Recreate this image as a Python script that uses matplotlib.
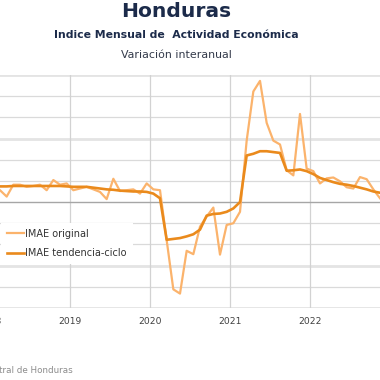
import numpy as np
import pandas as pd
import matplotlib
matplotlib.use('Agg')
import matplotlib.pyplot as plt
from matplotlib.lines import Line2D

# meses ene-2018 .. nov-2022
meses = pd.date_range('2018-01-01', periods=59, freq='MS')

imae_original = [3.5, 2.8, 1.3, 4.1, 4.1, 3.6, 3.8, 4.1, 2.8, 5.2, 4.1, 4.4,
                 2.8, 3.2, 3.6, 3.0, 2.4, 0.7, 5.5, 2.6, 2.8, 3.0, 2.0, 4.4,
                 3.0, 2.8, -9.0, -20.6, -21.6, -11.5, -12.3, -5.8, -3.4, -1.3, -12.4, -5.4,
                 -5.0, -2.3, 14.5, 26.1, 28.6, 18.7, 14.5, 13.6, 7.5, 6.3, 20.8, 7.9,
                 7.3, 4.4, 5.6, 5.8, 4.9, 3.5, 3.2, 5.9, 5.4, 3.0, 0.9]

imae_tendencia = [3.7, 3.7, 3.7, 3.8, 3.8, 3.8, 3.8, 3.8, 3.8, 3.8, 3.8, 3.7,
                  3.6, 3.6, 3.6, 3.4, 3.2, 3.0, 2.9, 2.7, 2.6, 2.5, 2.5, 2.4,
                  2.0, 0.9, -8.9, -8.7, -8.5, -8.1, -7.6, -6.5, -3.2, -2.8, -2.7, -2.3,
                  -1.5, 0.0, 11.0, 11.4, 12.0, 12.0, 11.8, 11.6, 7.4, 7.5, 7.7, 7.3,
                  6.6, 5.7, 5.2, 4.7, 4.3, 4.1, 3.8, 3.4, 3.0, 2.5, 2.2]

anios = [2018, 2019, 2020, 2021, 2022]

navy = '#1c2b4a'
fig = plt.figure(figsize=(3.8, 3.8), dpi=100)
ax = fig.add_axes([0, 0.1895, 1, 0.6132])

x = np.arange(len(meses))

# grid
for v in range(-25, 31, 5):
    if v == 0:
        ax.axhline(v, color='#a6a6a6', lw=1.0, zorder=1)
    elif v in (30, 15, -15, -25):
        ax.axhline(v, color='#e4e4e4', lw=2.0, zorder=0)
    else:
        ax.axhline(v, color='#dadada', lw=0.9, zorder=0)

pos_anio = []
for a in anios:
    p = np.where(meses.year == a)[0][0] - 0.5
    pos_anio.append(p)
    ax.axvline(p, color='#d2d2d2', lw=0.9, zorder=0)
    ax.text(p, -0.056, str(a), transform=ax.get_xaxis_transform(),
            ha='center', va='center', fontsize=6.6, color='#404040', clip_on=False)

ax.plot(x, imae_original, color='#fbb36c', lw=1.6, zorder=2)
ax.plot(x, imae_tendencia, color='#ea8a1c', lw=1.9, zorder=3)

ax.set_xlim(1, 58)
ax.set_ylim(-25, 30)
ax.set_xticks([])
ax.set_yticks([])
for s in ax.spines.values():
    s.set_visible(False)

handles = [Line2D([], [], color='#fbb36c', lw=1.6),
           Line2D([], [], color='#ea8a1c', lw=1.9)]
leg = ax.legend(handles, ['IMAE original', 'IMAE tendencia-ciclo'],
                loc='upper left', bbox_to_anchor=(1 / 380, 0.414),
                bbox_transform=fig.transFigure, fontsize=7, frameon=True,
                facecolor='white', edgecolor='none', framealpha=1, fancybox=False,
                handlelength=1.8, handletextpad=0.1, labelspacing=1.0,
                borderaxespad=0, borderpad=0.6)
for t in leg.get_texts():
    t.set_color('#333333')

fig.text(0.463, 0.971, 'Honduras', ha='center', va='center',
         fontsize=14.6, fontweight='bold', color=navy)
fig.text(0.463, 0.909, 'Indice Mensual de  Actividad Económica', ha='center',
         va='center', fontsize=7.8, fontweight='bold', color=navy)
fig.text(0.463, 0.855, 'Variación interanual', ha='center', va='center',
         fontsize=7.9, color='#333a4a')
fig.text(73 / 380, 0.0237, 'Fuente: Banco Central de Honduras', ha='right',
         va='center', fontsize=6.3, color='#8c8c8c')

fig.savefig('out.png', dpi=100)
